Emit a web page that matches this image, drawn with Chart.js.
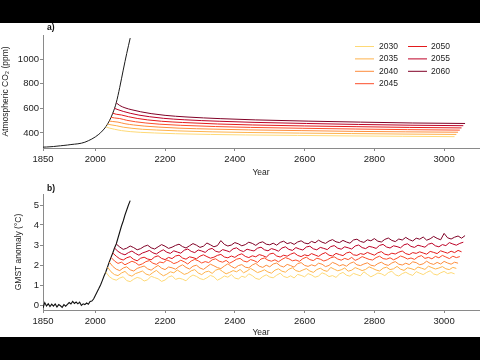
<!DOCTYPE html>
<html><head><meta charset="utf-8">
<script src="https://cdn.jsdelivr.net/npm/chart.js@4/dist/chart.umd.min.js"></script>
<style>
html,body{margin:0;padding:0;background:#000;width:480px;height:360px;overflow:hidden}
#wrap{position:absolute;left:0;top:23px;width:480px;height:314px;background:#fff;overflow:hidden}
#a{position:absolute;left:0;top:0}
#b{position:absolute;left:0;top:157px}
</style></head><body>
<div id="wrap">
<canvas id="a" width="480" height="157"></canvas>
<canvas id="b" width="480" height="160"></canvas>
</div>
<script>
// ---------- data ----------
const xTicks = [1850, 2000, 2200, 2400, 2600, 2800, 3000];
const co2Ticks = [400, 600, 800, 1000];
const gmstTicks = [0, 1, 2, 3, 4, 5];
const scenarioLabels = ['2030', '2035', '2040', '2045', '2050', '2055', '2060'];
const scenarioStart = [2030, 2035, 2040, 2045, 2050, 2055, 2060];
const scenarioColors = ['#fed976', '#feb24c', '#fd8d3c', '#fc4e2a', '#e31a1c', '#bd0026', '#800026'];

const co2HistYears = [1850,1860,1870,1880,1890,1900,1910,1920,1930,1940,1950,1960,1970,1980,1990,2000,2010,2020,2030,2040,2050,2060,2070,2080,2090,2100];
const co2Hist = [285,286,288,290,293,296,299,302,306,309,312,317,325,337,351,368,389,416,450,497,560,645,770,910,1045,1170];

const co2Offsets = [0,10,25,45,70,100,140,200,300,400,550,700,850,1000];
const co2S2030 = [450,440,430,419,411,405,400,394,388,384,380,376,373,370];
const co2S2035 = [472,466,459,447,438,430,424,417,409,404,399,395,391,388];
const co2S2040 = [497,493,488,475,465,456,448,439,431,425,419,413,409,406];
const co2S2045 = [527,522,517,503,491,481,471,462,452,445,438,432,427,423];
const co2S2050 = [560,552,546,532,518,506,495,485,473,465,457,451,445,441];
const co2S2055 = [600,589,575,560,545,532,519,507,495,486,477,469,463,459];
const co2S2060 = [645,623,604,588,572,557,543,530,516,506,496,488,481,477];

const gmstHistYears = [1850,1855,1860,1865,1870,1875,1880,1885,1890,1895,1900,1905,1910,1915,1920,1925,1930,1935,1940,1945,1950,1955,1960,1965,1970,1975,1980,1985,1990,1995,2000,2005,2010,2015,2020,2025,2030,2035,2040,2045,2050,2055,2060,2065,2070,2075,2080,2085,2090,2095,2100];
const gmstHist = [-0.15,0.12,-0.05,0.06,-0.08,0.04,-0.06,0.05,-0.10,0.02,-0.04,-0.12,0.02,-0.06,0.03,0.12,0.05,0.18,0.08,0.15,0.06,0.14,-0.02,0.06,0.02,0.10,0.04,0.18,0.20,0.30,0.48,0.65,0.82,1.00,1.22,1.45,1.65,1.90,2.15,2.38,2.60,2.85,3.05,3.35,3.65,3.95,4.20,4.50,4.75,5.00,5.22];

const gmstStep = 10;
const gmstS2030 = [1.65,1.42,1.30,1.24,1.35,1.41,1.22,1.17,1.29,1.38,
1.33,1.20,1.26,1.44,1.37,1.31,1.18,1.25,1.40,1.46,
1.28,1.34,1.29,1.21,1.39,1.50,1.43,1.32,1.27,1.36,
1.48,1.41,1.24,1.33,1.45,1.39,1.52,1.35,1.30,1.44,
1.38,1.56,1.47,1.33,1.28,1.42,1.51,1.40,1.36,1.49,
1.59,1.43,1.37,1.46,1.35,1.53,1.48,1.41,1.57,1.50,
1.39,1.45,1.61,1.54,1.42,1.47,1.38,1.55,1.63,1.49,
1.44,1.58,1.52,1.46,1.66,1.53,1.41,1.50,1.60,1.56,
1.47,1.62,1.69,1.51,1.45,1.57,1.64,1.54,1.48,1.67,
1.59,1.52,1.63,1.71,1.55,1.50,1.61,1.68,1.57,1.62,1.56];
const gmstS2035 = [1.90,1.66,1.52,1.47,1.60,1.68,1.51,1.44,1.57,1.63,
1.70,1.55,1.49,1.62,1.73,1.58,1.46,1.54,1.66,1.61,
1.75,1.64,1.53,1.59,1.71,1.77,1.60,1.52,1.65,1.69,
1.58,1.74,1.80,1.67,1.56,1.63,1.72,1.66,1.78,1.61,
1.70,1.83,1.73,1.62,1.68,1.76,1.65,1.59,1.74,1.81,
1.69,1.64,1.79,1.86,1.72,1.67,1.75,1.82,1.70,1.63,
1.77,1.84,1.73,1.68,1.88,1.79,1.71,1.76,1.85,1.69,
1.74,1.87,1.80,1.72,1.78,1.91,1.83,1.75,1.70,1.84,
1.89,1.77,1.81,1.93,1.79,1.73,1.86,1.82,1.76,1.90,
1.84,1.78,1.94,1.87,1.80,1.85,1.92,1.81,1.77,1.88,1.83];
const gmstS2040 = [2.15,1.93,1.79,1.72,1.85,1.91,1.76,1.70,1.83,1.89,
1.95,1.81,1.74,1.87,1.98,1.84,1.77,1.90,1.86,1.79,
1.92,2.01,1.88,1.80,1.94,1.99,1.85,1.78,1.91,2.04,
1.96,1.87,1.82,1.95,2.06,1.93,1.84,1.97,2.02,1.89,
1.86,2.00,2.08,1.94,1.88,1.99,1.91,2.05,2.10,1.96,
1.90,2.03,1.97,1.89,2.07,2.12,1.98,1.93,2.01,1.95,
2.09,2.04,1.92,1.98,2.13,2.06,1.96,2.02,1.94,2.08,
2.15,2.01,1.97,2.05,2.11,1.99,1.95,2.07,2.14,2.03,
1.98,2.10,2.17,2.04,2.00,2.09,2.02,2.16,2.12,2.01,
2.06,2.19,2.08,2.03,2.13,2.05,2.18,2.10,2.04,2.14,2.09];
const gmstS2045 = [2.38,2.20,2.08,2.14,2.01,2.10,2.19,2.12,1.99,2.06,
2.17,2.22,2.09,2.03,2.15,2.11,2.25,2.18,2.07,2.13,
2.24,2.16,2.05,2.20,2.28,2.21,2.10,2.17,2.12,2.26,
2.31,2.19,2.14,2.23,2.09,2.18,2.29,2.33,2.20,2.15,
2.27,2.22,2.13,2.30,2.35,2.24,2.19,2.26,2.16,2.28,
2.37,2.31,2.21,2.25,2.18,2.32,2.39,2.27,2.22,2.34,
2.29,2.20,2.26,2.36,2.41,2.30,2.24,2.33,2.27,2.38,
2.23,2.31,2.42,2.35,2.28,2.25,2.37,2.44,2.32,2.29,
2.36,2.26,2.34,2.45,2.39,2.30,2.35,2.28,2.41,2.47,
2.33,2.38,2.31,2.43,2.36,2.48,2.40,2.32,2.44,2.37,2.42];
const gmstS2050 = [2.60,2.44,2.31,2.25,2.36,2.42,2.28,2.21,2.34,2.39,
2.30,2.26,2.40,2.46,2.33,2.27,2.38,2.32,2.45,2.49,
2.35,2.29,2.41,2.37,2.31,2.44,2.51,2.42,2.34,2.39,
2.48,2.53,2.40,2.36,2.45,2.38,2.50,2.56,2.43,2.37,
2.46,2.41,2.52,2.47,2.39,2.55,2.59,2.45,2.40,2.49,
2.44,2.54,2.61,2.48,2.42,2.51,2.46,2.57,2.50,2.43,
2.55,2.62,2.49,2.45,2.58,2.52,2.47,2.60,2.65,2.51,
2.48,2.57,2.53,2.63,2.56,2.49,2.61,2.67,2.54,2.50,
2.59,2.55,2.64,2.70,2.57,2.52,2.62,2.58,2.66,2.60,
2.54,2.68,2.63,2.57,2.71,2.65,2.59,2.69,2.62,2.73,2.66];
const gmstS2055 = [2.85,2.68,2.57,2.51,2.62,2.70,2.58,2.49,2.60,2.66,
2.73,2.61,2.55,2.67,2.76,2.64,2.58,2.71,2.65,2.59,
2.74,2.80,2.68,2.62,2.75,2.70,2.63,2.78,2.83,2.69,
2.64,2.77,2.72,2.66,2.81,2.86,2.73,2.67,2.79,2.74,
2.70,2.84,2.89,2.76,2.71,2.82,2.77,2.69,2.85,2.91,
2.78,2.73,2.87,2.80,2.75,2.90,2.94,2.81,2.76,2.88,
2.83,2.77,2.92,2.97,2.84,2.79,2.91,2.86,2.80,2.95,
3.00,2.87,2.82,2.93,2.89,2.83,2.98,3.03,2.90,2.85,
2.96,2.92,2.86,3.01,3.06,2.93,2.88,2.99,2.94,2.89,
3.04,3.09,2.96,2.91,3.02,2.97,3.12,3.05,2.99,3.08,3.14];
const gmstS2060 = [3.05,2.90,2.78,2.84,2.95,2.87,2.76,2.82,2.93,2.99,
2.86,2.80,2.91,3.02,2.94,2.83,2.89,2.98,3.04,2.92,
2.85,2.96,3.07,2.99,2.88,2.94,3.10,3.01,2.91,2.97,
3.22,3.03,2.95,3.00,3.12,3.06,2.96,3.02,3.14,3.08,
2.98,3.11,3.16,3.04,3.01,3.09,2.99,3.13,3.19,3.07,
3.12,3.03,3.15,3.21,3.10,3.06,3.18,3.11,3.24,3.14,
3.08,3.20,3.27,3.16,3.12,3.23,3.15,3.09,3.25,3.29,
3.18,3.13,3.26,3.21,3.32,3.19,3.15,3.28,3.35,3.23,
3.17,3.30,3.25,3.38,3.27,3.20,3.34,3.29,3.40,3.24,
3.31,3.43,3.33,3.26,3.58,3.36,3.30,3.39,3.45,3.34,3.47];

const co2Scen = [co2S2030, co2S2035, co2S2040, co2S2045, co2S2050, co2S2055, co2S2060];
const gmstScen = [gmstS2030, gmstS2035, gmstS2040, gmstS2045, gmstS2050, gmstS2055, gmstS2060];

// ---------- style ----------
const FONT = "'Liberation Sans', Arial, Helvetica, sans-serif";
const AX = '#8a8a8a';
const TXT = '#222';
const plain = v => String(v);

function xScale(axisH) {
  return {
    type: 'linear', min: 1850, max: 3100,
    afterBuildTicks: s => { s.ticks = xTicks.map(v => ({ value: v })); },
    afterFit: s => { s.height = axisH; },
    grid: { display: true, drawOnChartArea: false, drawTicks: true, tickLength: 3, color: AX, lineWidth: 1 },
    border: { display: true, color: AX, width: 1 },
    ticks: { font: { family: FONT, size: 9.5 }, color: TXT, padding: 3, maxRotation: 0, autoSkip: false, callback: plain },
    title: { display: true, text: 'Year', font: { family: FONT, size: 8.5 }, color: TXT, padding: { top: 0, bottom: 2 } }
  };
}
function yScale(min, max, ticks, title, titlePad) {
  return {
    type: 'linear', min: min, max: max,
    afterBuildTicks: s => { s.ticks = ticks.map(v => ({ value: v })); },
    afterFit: s => { s.width = 43; },
    grid: { display: true, drawOnChartArea: false, drawTicks: true, tickLength: 3, color: AX, lineWidth: 1 },
    border: { display: true, color: AX, width: 1 },
    ticks: { font: { family: FONT, size: 9.5 }, color: TXT, padding: 1, callback: plain },
    title: { display: true, text: title, font: { family: FONT, size: 8.5 }, color: TXT, padding: { top: titlePad, bottom: 0 } }
  };
}

const decor = {
  id: 'decor',
  afterDraw(chart, args, o) {
    const ctx = chart.ctx;
    ctx.save();
    ctx.fillStyle = '#111';
    ctx.font = 'bold 8.5px ' + FONT;
    ctx.textBaseline = 'middle';
    ctx.textAlign = 'left';
    ctx.fillText(o.panel, o.px, o.py);
    if (o.legend) {
      ctx.font = '8.5px ' + FONT;
      const ds = chart.data.datasets.filter(d => scenarioLabels.includes(d.label));
      ds.forEach((d, i) => {
        const col = i < 4 ? 0 : 1;
        const row = i < 4 ? i : i - 4;
        const lx = col === 0 ? 355 : 408;
        const tx = col === 0 ? 379 : 431;
        const y = 23 + row * 12.4;
        ctx.strokeStyle = d.borderColor;
        ctx.lineWidth = 1;
        ctx.beginPath(); ctx.moveTo(lx, y + 0.5); ctx.lineTo(lx + 19, y + 0.5); ctx.stroke();
        ctx.fillStyle = TXT;
        ctx.fillText(d.label, tx, y + 0.5);
      });
    }
    ctx.restore();
  }
};

// ---------- panel a ----------
const dsA = scenarioLabels.map((lab, i) => ({
  label: lab,
  data: co2Offsets.map((o, j) => ({ x: scenarioStart[i] + o, y: co2Scen[i][j] })),
  borderColor: scenarioColors[i], borderWidth: 1, pointRadius: 0,
  cubicInterpolationMode: 'monotone'
}));
dsA.push({
  label: 'hist',
  data: co2HistYears.map((y, j) => ({ x: y, y: co2Hist[j] })),
  borderColor: '#1a1a1a', borderWidth: 1, pointRadius: 0, cubicInterpolationMode: 'monotone'
});

new Chart(document.getElementById('a'), {
  type: 'line',
  data: { datasets: dsA },
  options: {
    responsive: false, animation: false, devicePixelRatio: 1,
    layout: { padding: { top: 12, right: 1, left: 0, bottom: 0 } },
    scales: { x: xScale(32), y: yScale(278, 1195, co2Ticks, 'Atmospheric CO\u2082 (ppm)', 0.5) },
    plugins: { legend: { display: false }, tooltip: { enabled: false },
      decor: { panel: 'a)', px: 47, py: 4.5, legend: true } }
  },
  plugins: [decor]
});

// ---------- panel b ----------
const dsB = scenarioLabels.map((lab, i) => ({
  label: lab,
  data: gmstScen[i].map((v, j) => ({ x: scenarioStart[i] + j * gmstStep, y: v })),
  borderColor: scenarioColors[i], borderWidth: 1, pointRadius: 0, tension: 0
}));
dsB.push({
  label: 'hist',
  data: gmstHistYears.map((y, j) => ({ x: y, y: gmstHist[j] })),
  borderColor: '#111', borderWidth: 1.1, pointRadius: 0, tension: 0
});

new Chart(document.getElementById('b'), {
  type: 'line',
  data: { datasets: dsB },
  options: {
    responsive: false, animation: false, devicePixelRatio: 1,
    layout: { padding: { top: 14, right: 1, left: 0, bottom: 0 } },
    scales: { x: xScale(30), y: yScale(-0.25, 5.55, gmstTicks, 'GMST anomaly (\u00B0C)', 13.4) },
    plugins: { legend: { display: false }, tooltip: { enabled: false },
      decor: { panel: 'b)', px: 47, py: 8.5, legend: false } }
  },
  plugins: [decor]
});
</script>
</body></html>
